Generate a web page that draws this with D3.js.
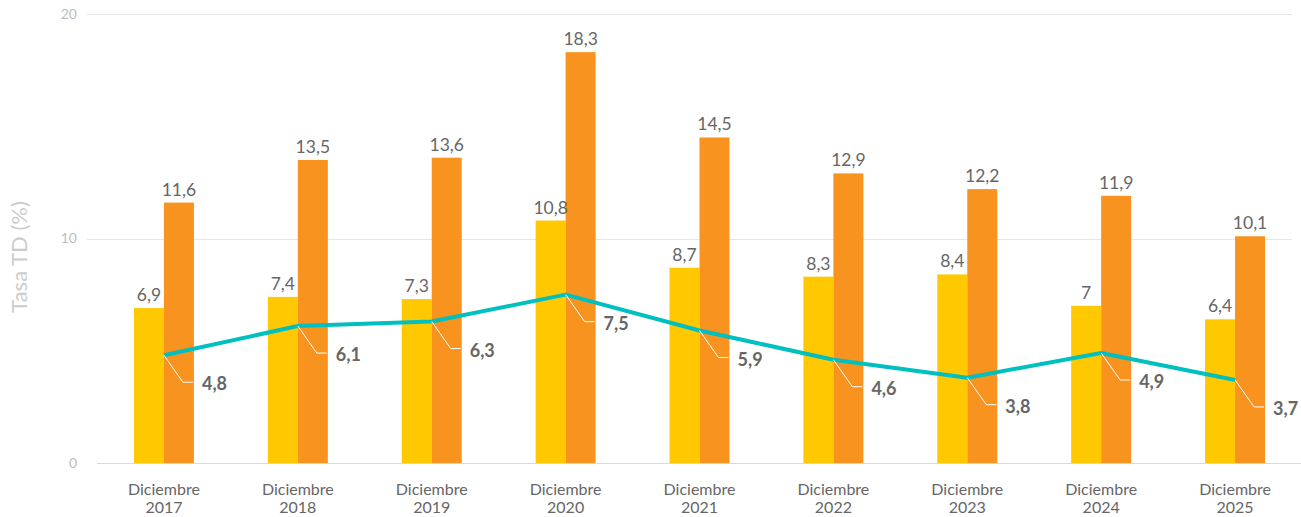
<!DOCTYPE html>
<html>
<head>
<meta charset="utf-8">
<script src="https://cdn.jsdelivr.net/npm/d3@7"></script>
<style>
  html, body { margin: 0; padding: 0; background: #fff; }
  svg { display: block; font-family: Lato, "Noto Sans", sans-serif; }
</style>
</head>
<body>
<svg id="chart" width="1301" height="517"></svg>
<script>
// Tasa de desempleo (TD) de diciembre por año
const years = ["2017", "2018", "2019", "2020", "2021", "2022", "2023", "2024", "2025"];
const categories = years.map(y => "Diciembre " + y);
const tdHombres = [6.9, 7.4, 7.3, 10.8, 8.7, 8.3, 8.4, 7, 6.4];
const tdMujeres = [11.6, 13.5, 13.6, 18.3, 14.5, 12.9, 12.2, 11.9, 10.1];
const brecha = [4.8, 6.1, 6.3, 7.5, 5.9, 4.6, 3.8, 4.9, 3.7];
const yTicks = [0, 10, 20];

const colors = { hombres: "#FFC800", mujeres: "#F7931E", brecha: "#00BFBF" };
const fmt = v => String(v).replace(".", ",");

const svg = d3.select("#chart");
const W = 1301, H = 517;
const margin = { top: 14, right: 0, bottom: 54, left: 97 };
const plotRight = 1302;
const baseY = H - margin.bottom;

const x = d3.scaleBand()
  .domain(categories)
  .range([margin.left, plotRight])
  .paddingInner(0.552)
  .paddingOuter(0.276);

const xSub = d3.scaleBand()
  .domain(["hombres", "mujeres"])
  .range([0, x.bandwidth()]);

const y = d3.scaleLinear().domain([0, 20]).range([baseY, margin.top]);

// Grid lines and y axis labels
const gridG = svg.append("g");
gridG.selectAll("line.grid")
  .data(yTicks.filter(t => t !== 0))
  .join("line")
  .attr("class", "grid")
  .attr("x1", 87).attr("x2", 1292)
  .attr("y1", d => Math.round(y(d)) + 0.5).attr("y2", d => Math.round(y(d)) + 0.5)
  .attr("stroke", "#e6e6e6").attr("stroke-width", 1);

const yAxis = d3.axisLeft(y).tickValues(yTicks).tickSize(0).tickPadding(0);
const yAxisG = svg.append("g").attr("transform", "translate(77,0)").call(yAxis);
yAxisG.select(".domain").remove();
yAxisG.selectAll("text")
  .attr("fill", "#bdbdbd")
  .style("font-size", "14px")
  .style("font-family", "Lato, sans-serif");

// y axis title
svg.append("text")
  .attr("transform", `translate(27,257) rotate(-90)`)
  .attr("text-anchor", "middle")
  .attr("fill", "#cccccc")
  .style("font-size", "22px")
  .text("Tasa TD (%)");

// Bars
const rows = categories.map((c, i) => ({ cat: c, hombres: tdHombres[i], mujeres: tdMujeres[i] }));
const groups = svg.append("g").selectAll("g")
  .data(rows)
  .join("g")
  .attr("transform", d => `translate(${x(d.cat)},0)`);

groups.selectAll("rect")
  .data(d => ["hombres", "mujeres"].map(k => ({ key: k, value: d[k] })))
  .join("rect")
  .attr("x", d => xSub(d.key))
  .attr("width", xSub.bandwidth())
  .attr("y", d => y(d.value))
  .attr("height", d => baseY - y(d.value))
  .attr("fill", d => colors[d.key]);

groups.selectAll("text.val")
  .data(d => ["hombres", "mujeres"].map(k => ({ key: k, value: d[k] })))
  .join("text")
  .attr("class", "val")
  .attr("x", d => xSub(d.key) + xSub.bandwidth() / 2)
  .attr("y", d => y(d.value) - 7)
  .attr("text-anchor", "middle")
  .attr("fill", "#666666")
  .style("font-size", "17.5px")
  .text(d => fmt(d.value));

// Baseline
svg.append("line")
  .attr("x1", margin.left).attr("x2", W)
  .attr("y1", baseY + 0.5).attr("y2", baseY + 0.5)
  .attr("stroke", "#d9d9d9").attr("stroke-width", 1);

// x axis labels
const xAxis = d3.axisBottom(x).tickSize(0).tickPadding(0);
const xAxisG = svg.append("g").attr("transform", `translate(0,${baseY})`).call(xAxis);
xAxisG.select(".domain").remove();
xAxisG.selectAll(".tick text").each(function (d) {
  const parts = d.split(" ");
  const t = d3.select(this).text(null)
    .attr("fill", "#666666")
    .style("font-size", "16px")
    .style("font-family", "Lato, sans-serif")
    .attr("y", 0).attr("dy", null);
  parts.forEach((p, i) => {
    t.append("tspan").attr("x", 0).attr("y", 32 + i * 18).text(p);
  });
});

// Gap line
const cx = c => x(c) + x.bandwidth() / 2;
const pts = categories.map((c, i) => ({ cat: c, value: brecha[i] }));
svg.append("path")
  .datum(pts)
  .attr("fill", "none")
  .attr("stroke", colors.brecha)
  .attr("stroke-width", 4)
  .attr("stroke-linejoin", "round")
  .attr("d", d3.line().x(d => cx(d.cat)).y(d => y(d.value)));

// Line labels with leader lines
const lbl = svg.append("g").selectAll("g").data(pts).join("g")
  .attr("transform", d => `translate(${cx(d.cat)},${y(d.value)})`);
lbl.append("polyline")
  .attr("points", "0,0 19,27 29,27")
  .attr("fill", "none")
  .attr("stroke", "#ffffff")
  .attr("stroke-width", 1);
lbl.append("text")
  .attr("x", 38).attr("y", 35)
  .attr("fill", "#666666")
  .style("font-size", "18px")
  .style("font-weight", "bold")
  .text(d => fmt(d.value));
</script>
</body>
</html>
